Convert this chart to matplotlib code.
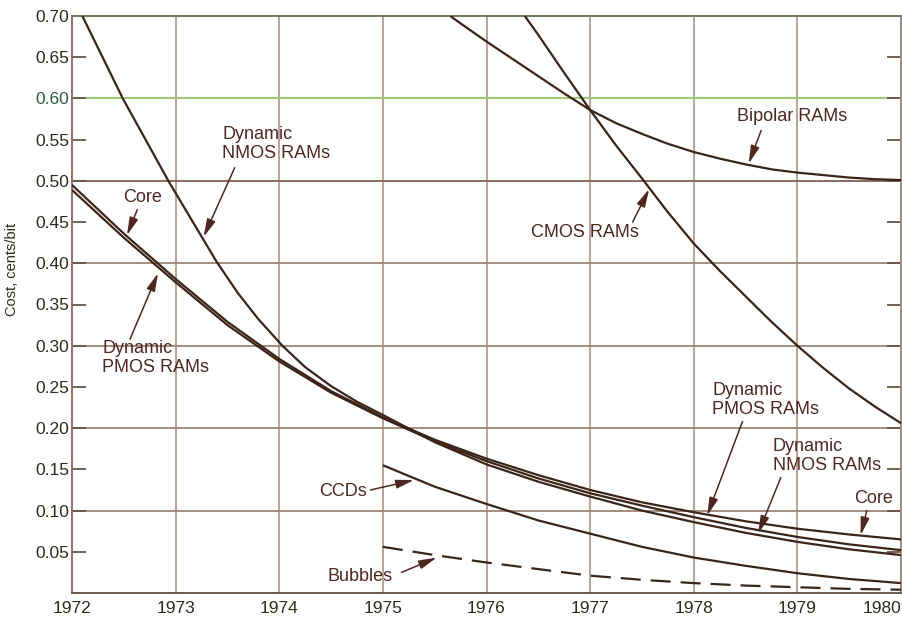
import matplotlib
matplotlib.use("Agg")
import matplotlib.pyplot as plt
from matplotlib.ticker import FixedLocator, FixedFormatter

# ---------------- data ----------------
half_years = [1972.0, 1972.5, 1973.0, 1973.5, 1974.0, 1974.5, 1975.0, 1975.5,
              1976.0, 1976.5, 1977.0, 1977.5, 1978.0, 1978.5, 1979.0, 1979.5, 1980.0]

core_cost = [0.495, 0.436, 0.381, 0.329, 0.284, 0.245, 0.213, 0.186,
             0.163, 0.143, 0.125, 0.110, 0.098, 0.087, 0.078, 0.071, 0.065]
pmos_cost = [0.489, 0.431, 0.377, 0.325, 0.281, 0.243, 0.212, 0.184,
             0.160, 0.139, 0.121, 0.106, 0.092, 0.079, 0.068, 0.059, 0.052]

nmos_years = [1972.1, 1972.49, 1972.93, 1973.2, 1973.4, 1973.6, 1973.8, 1974.03,
              1974.25, 1974.5, 1974.75, 1975.0, 1975.5, 1976.0, 1976.5, 1977.0,
              1977.5, 1978.0, 1978.5, 1979.0, 1979.5, 1980.0]
nmos_cost = [0.700, 0.600, 0.500, 0.443, 0.401, 0.364, 0.332, 0.300,
             0.274, 0.251, 0.232, 0.216, 0.183, 0.156, 0.135, 0.117,
             0.100, 0.086, 0.073, 0.062, 0.053, 0.046]

bipolar_years = [1975.65, 1975.75, 1976.0, 1976.25, 1976.5, 1976.75, 1977.0, 1977.25,
                 1977.5, 1977.75, 1978.0, 1978.25, 1978.5, 1978.75, 1979.0, 1979.25,
                 1979.5, 1979.75, 1980.0]
bipolar_cost = [0.700, 0.691, 0.669, 0.648, 0.627, 0.606, 0.586, 0.570,
                0.557, 0.545, 0.535, 0.527, 0.520, 0.514, 0.510, 0.507,
                0.504, 0.502, 0.501]

cmos_years = [1976.37, 1976.5, 1976.75, 1977.0, 1977.25, 1977.5, 1977.75, 1978.0,
              1978.25, 1978.5, 1978.75, 1979.0, 1979.25, 1979.5, 1979.75, 1980.0]
cmos_cost = [0.700, 0.677, 0.631, 0.586, 0.543, 0.503, 0.462, 0.424,
             0.391, 0.360, 0.329, 0.300, 0.273, 0.248, 0.226, 0.206]

late_years = [1975.0, 1975.5, 1976.0, 1976.5, 1977.0, 1977.5, 1978.0, 1978.5, 1979.0, 1979.5, 1980.0]
ccd_cost = [0.155, 0.129, 0.108, 0.088, 0.072, 0.056, 0.043, 0.033, 0.024, 0.017, 0.012]
bubble_cost = [0.056, 0.046, 0.037, 0.029, 0.021, 0.016, 0.012, 0.009, 0.007, 0.005, 0.004]

year_ticks = [1972, 1973, 1974, 1975, 1976, 1977, 1978, 1979, 1980]
cost_ticks = [0.05, 0.10, 0.15, 0.20, 0.25, 0.30, 0.35, 0.40, 0.45, 0.50, 0.55, 0.60, 0.65, 0.70]
cost_tick_labels = ["0.05", "0.10", "0.15", "0.20", "0.25", "0.30", "0.35",
                    "0.40", "0.45", "0.50", "0.55", "0.60", "0.65", "0.70"]
grid_costs = [0.10, 0.20, 0.30, 0.40, 0.50, 0.60]

# (label, text position, arrow start, arrow tip)
annotations = [
    ("Dynamic\nNMOS RAMs", (1973.45, 0.545), (1973.57, 0.516), (1973.27, 0.432)),
    ("Core", (1972.68, 0.480), (1972.63, 0.465), (1972.53, 0.434)),
    ("Dynamic\nPMOS RAMs", (1972.29, 0.285), (1972.56, 0.308), (1972.83, 0.388)),
    ("CMOS RAMs", (1976.95, 0.437), (1977.41, 0.450), (1977.57, 0.490)),
    ("Bipolar RAMs", (1978.95, 0.578), (1978.65, 0.561), (1978.53, 0.521)),
    ("Dynamic\nPMOS RAMs", (1978.18, 0.234), (1978.47, 0.208), (1978.13, 0.094)),
    ("Dynamic\nNMOS RAMs", (1978.76, 0.166), (1978.84, 0.140), (1978.62, 0.072)),
    ("Core", (1979.74, 0.115), (1979.67, 0.100), (1979.61, 0.070)),
    ("CCDs", (1974.62, 0.123), (1974.88, 0.125), (1975.30, 0.137)),
    ("Bubbles", (1974.78, 0.020), (1975.18, 0.025), (1975.52, 0.043)),
]

# ---------------- styling ----------------
plt.rcParams["font.family"] = ["Liberation Sans", "DejaVu Sans"]
line_color = "#3b2418"
label_color = "#4e2720"
tick_color = "#2b2b1e"

fig = plt.figure(figsize=(9.02, 6.2), dpi=100)
ax = fig.add_axes([72 / 902, 1 - 593 / 620, 829 / 902, 577 / 620])
ax.set_xlim(1972, 1980)
ax.set_ylim(0, 0.70)

# grid
for yr in year_ticks[1:-1]:
    ax.axvline(yr, color="#b59b8c", lw=1.3, zorder=1)
grid_colors = {0.60: "#93c46c", 0.50: "#7d6152"}
for c in grid_costs:
    ax.axhline(c, color=grid_colors.get(c, "#9d8576"), lw=1.3, zorder=1)

# curves
kw = dict(color=line_color, lw=1.6, zorder=3, solid_capstyle="butt", solid_joinstyle="round")
ax.plot(half_years, core_cost, **kw)
ax.plot(half_years, pmos_cost, **kw)
ax.plot(nmos_years, nmos_cost, **kw)
ax.plot(bipolar_years, bipolar_cost, **kw)
ax.plot(cmos_years, cmos_cost, **kw)
ax.plot(late_years, ccd_cost, **kw)
ax.plot(late_years, bubble_cost, color=line_color, lw=1.6, zorder=3,
        linestyle=(0, (9, 4.5)))

# annotations
for text, tpos, start, tip in annotations:
    ha = "left" if "\n" in text else "center"
    ax.text(tpos[0], tpos[1], text, ha=ha, va="center", fontsize=13,
            color=label_color, linespacing=1.15, zorder=5)
    ax.annotate("", xy=tip, xytext=start,
                arrowprops=dict(arrowstyle="-|>,head_length=0.9,head_width=0.22",
                                color=label_color, lw=1.1, shrinkA=0, shrinkB=0,
                                mutation_scale=12), zorder=5)

# ticks
ax.xaxis.set_major_locator(FixedLocator(year_ticks))
ax.set_xticklabels([str(y) for y in year_ticks])
ax.yaxis.set_major_locator(FixedLocator(cost_ticks))
ax.yaxis.set_major_formatter(FixedFormatter(cost_tick_labels))
ax.tick_params(axis="x", length=0, pad=6, labelsize=12.5, labelcolor=tick_color)
ax.tick_params(axis="y", direction="in", length=10, width=1.3, color="#6b5446",
               right=True, pad=2, labelsize=12.5, labelcolor=tick_color)
for lbl in ax.get_yticklabels():
    if lbl.get_text() == "0.60":
        lbl.set_color("#2f5a3a")
ax.get_xticklabels()[-1].set_horizontalalignment("right")

for side, col in (("left", "#8a7466"), ("bottom", "#6e5c50"),
                  ("right", "#a08a7c"), ("top", "#6f7a5e")):
    ax.spines[side].set_color(col)
    ax.spines[side].set_linewidth(1.4)

ax.set_ylabel("Cost, cents/bit", fontsize=10.5, color=tick_color, va="center")
ax.yaxis.set_label_coords(-0.072, 0.56)

fig.savefig("out.png", dpi=100)
